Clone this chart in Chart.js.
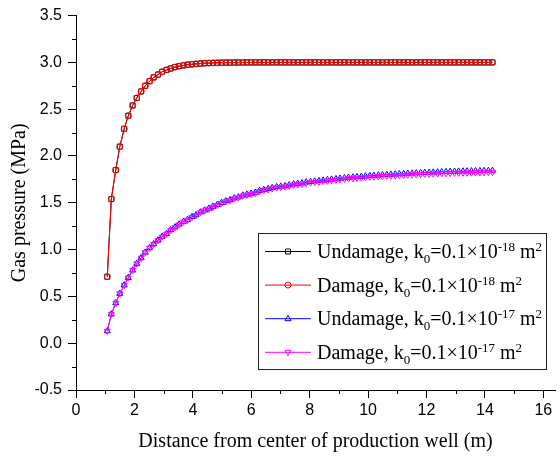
<!DOCTYPE html>
<html>
<head>
<meta charset="utf-8">
<script src="https://cdn.jsdelivr.net/npm/chart.js@4/dist/chart.umd.min.js"></script>
<style>
  html, body { margin: 0; padding: 0; background: #fff; }
</style>
</head>
<body>
<canvas id="pressure-chart" width="560" height="457"></canvas>
<script>
// distance from well centre (m)
var distance = [
  1.07, 1.21, 1.36, 1.50, 1.65, 1.79, 1.94, 2.08, 2.23, 2.37,
  2.52, 2.66, 2.81, 2.95, 3.10, 3.24, 3.39, 3.53, 3.68, 3.82,
  3.97, 4.11, 4.26, 4.40, 4.55, 4.69, 4.84, 4.98, 5.13, 5.27,
  5.42, 5.56, 5.71, 5.85, 6.00, 6.14, 6.29, 6.43, 6.58, 6.72,
  6.87, 7.01, 7.16, 7.30, 7.45, 7.59, 7.74, 7.88, 8.03, 8.17,
  8.32, 8.46, 8.61, 8.75, 8.90, 9.04, 9.19, 9.33, 9.48, 9.62,
  9.77, 9.91, 10.06, 10.20, 10.35, 10.49, 10.64, 10.78, 10.93, 11.07,
  11.22, 11.36, 11.51, 11.65, 11.80, 11.94, 12.09, 12.23, 12.38, 12.52,
  12.67, 12.81, 12.96, 13.10, 13.25, 13.39, 13.54, 13.68, 13.83, 13.97,
  14.12, 14.26
];

// gas pressure (MPa), k0 = 0.1e-18 m2
var undamage18 = [
  0.71, 1.54, 1.85, 2.10, 2.29, 2.43, 2.54, 2.62, 2.69, 2.75,
  2.80, 2.84, 2.87, 2.90, 2.92, 2.935, 2.95, 2.96, 2.968, 2.975,
  2.98, 2.984, 2.988, 2.991, 2.993, 2.995, 2.996, 2.997, 2.998, 2.998,
  2.999, 2.999, 2.999, 3.0, 3.0, 3.0, 3.0, 3.0, 3.0, 3.0,
  3.0, 3.0, 3.0, 3.0, 3.0, 3.0, 3.0, 3.0, 3.0, 3.0,
  3.0, 3.0, 3.0, 3.0, 3.0, 3.0, 3.0, 3.0, 3.0, 3.0,
  3.0, 3.0, 3.0, 3.0, 3.0, 3.0, 3.0, 3.0, 3.0, 3.0,
  3.0, 3.0, 3.0, 3.0, 3.0, 3.0, 3.0, 3.0, 3.0, 3.0,
  3.0, 3.0, 3.0, 3.0, 3.0, 3.0, 3.0, 3.0, 3.0, 3.0,
  3.0, 3.0
];
var damage18 = [
  0.71, 1.54, 1.85, 2.10, 2.29, 2.43, 2.54, 2.62, 2.69, 2.75,
  2.80, 2.84, 2.87, 2.90, 2.92, 2.935, 2.95, 2.96, 2.968, 2.975,
  2.98, 2.984, 2.988, 2.991, 2.993, 2.995, 2.996, 2.997, 2.998, 2.998,
  2.999, 2.999, 2.999, 3.0, 3.0, 3.0, 3.0, 3.0, 3.0, 3.0,
  3.0, 3.0, 3.0, 3.0, 3.0, 3.0, 3.0, 3.0, 3.0, 3.0,
  3.0, 3.0, 3.0, 3.0, 3.0, 3.0, 3.0, 3.0, 3.0, 3.0,
  3.0, 3.0, 3.0, 3.0, 3.0, 3.0, 3.0, 3.0, 3.0, 3.0,
  3.0, 3.0, 3.0, 3.0, 3.0, 3.0, 3.0, 3.0, 3.0, 3.0,
  3.0, 3.0, 3.0, 3.0, 3.0, 3.0, 3.0, 3.0, 3.0, 3.0,
  3.0, 3.0
];

// gas pressure (MPa), k0 = 0.1e-17 m2
var undamage17 = [
  0.13, 0.31, 0.43, 0.53, 0.62, 0.70, 0.78, 0.85, 0.91, 0.97,
  1.02, 1.06, 1.10, 1.14, 1.17, 1.21, 1.24, 1.27, 1.30, 1.32,
  1.35, 1.37, 1.40, 1.42, 1.44, 1.46, 1.48, 1.50, 1.52, 1.53,
  1.55, 1.56, 1.58, 1.59, 1.60, 1.61, 1.63, 1.64, 1.65, 1.66,
  1.67, 1.675, 1.68, 1.69, 1.70, 1.705, 1.71, 1.72, 1.725, 1.73,
  1.735, 1.74, 1.745, 1.75, 1.755, 1.76, 1.765, 1.77, 1.773, 1.777,
  1.78, 1.784, 1.788, 1.791, 1.794, 1.797, 1.80, 1.803, 1.805, 1.808,
  1.81, 1.813, 1.815, 1.818, 1.82, 1.822, 1.824, 1.826, 1.828, 1.83,
  1.831, 1.833, 1.834, 1.836, 1.837, 1.838, 1.839, 1.84, 1.841, 1.842,
  1.843, 1.844
];
var damage17 = [
  0.13, 0.31, 0.43, 0.53, 0.62, 0.70, 0.78, 0.85, 0.91, 0.97,
  1.018, 1.058, 1.098, 1.137, 1.167, 1.207, 1.237, 1.267, 1.296, 1.316,
  1.346, 1.366, 1.396, 1.415, 1.435, 1.455, 1.475, 1.495, 1.514, 1.524,
  1.544, 1.554, 1.574, 1.583, 1.593, 1.603, 1.623, 1.633, 1.642, 1.652,
  1.662, 1.667, 1.672, 1.681, 1.691, 1.696, 1.701, 1.711, 1.715, 1.720,
  1.725, 1.730, 1.735, 1.739, 1.744, 1.749, 1.754, 1.759, 1.761, 1.765,
  1.768, 1.772, 1.776, 1.778, 1.781, 1.784, 1.787, 1.790, 1.791, 1.794,
  1.796, 1.799, 1.801, 1.803, 1.805, 1.807, 1.809, 1.811, 1.812, 1.814,
  1.815, 1.817, 1.818, 1.819, 1.820, 1.821, 1.822, 1.823, 1.823, 1.824,
  1.825, 1.826
];

var seriesNames = ['Undamage', 'Damage', 'Undamage', 'Damage'];
var permExponents = ['-18', '-18', '-17', '-17'];
var seriesColors = ['#000000', '#ff0000', '#0000ff', '#ff00ff'];
var seriesMarkers = ['rect', 'circle', 'triangle', 'triangleDown'];

function toPoints(values) {
  return distance.map(function(d, i) { return { x: d, y: values[i] }; });
}

function makeDataset(values, idx) {
  var marker = seriesMarkers[idx];
  return {
    label: seriesNames[idx],
    data: toPoints(values),
    borderColor: seriesColors[idx],
    borderWidth: 1,
    pointStyle: marker === 'triangleDown' ? 'triangle' : marker,
    rotation: marker === 'triangleDown' ? 180 : 0,
    pointRadius: marker === 'circle' ? 3 : 3.5,
    pointBorderWidth: 1,
    pointBorderColor: seriesColors[idx],
    pointBackgroundColor: 'rgba(0,0,0,0)',
    tension: 0,
    order: 4 - idx
  };
}

// short unlabelled ticks between the major ones
var minorTicks = {
  id: 'minorTicks',
  afterDraw: function(chart) {
    var ctx = chart.ctx;
    var xs = chart.scales.x, ys = chart.scales.y;
    ctx.save();
    ctx.strokeStyle = '#000';
    ctx.lineWidth = 1;
    var i, v, p;
    for (i = 0; i < xs.ticks.length - 1; i++) {
      v = (xs.ticks[i].value + xs.ticks[i + 1].value) / 2;
      p = Math.round(xs.getPixelForValue(v)) + 0.5;
      ctx.beginPath(); ctx.moveTo(p, xs.top); ctx.lineTo(p, xs.top + 4); ctx.stroke();
    }
    for (i = 0; i < ys.ticks.length - 1; i++) {
      v = (ys.ticks[i].value + ys.ticks[i + 1].value) / 2;
      p = Math.round(ys.getPixelForValue(v)) + 0.5;
      ctx.beginPath(); ctx.moveTo(ys.right, p); ctx.lineTo(ys.right - 4, p); ctx.stroke();
    }
    ctx.restore();
  }
};

function drawMarker(ctx, kind, x, y) {
  ctx.beginPath();
  if (kind === 'rect') {
    ctx.rect(x - 2.5, y - 2.5, 5, 5);
  } else if (kind === 'circle') {
    ctx.arc(x, y, 3, 0, Math.PI * 2);
  } else if (kind === 'triangle') {
    ctx.moveTo(x, y - 3.5); ctx.lineTo(x + 3, y + 2); ctx.lineTo(x - 3, y + 2); ctx.closePath();
  } else {
    ctx.moveTo(x, y + 3.5); ctx.lineTo(x + 3, y - 2); ctx.lineTo(x - 3, y - 2); ctx.closePath();
  }
  ctx.stroke();
}

// boxed legend inside the plot, with sub/superscripts
var boxLegend = {
  id: 'boxLegend',
  afterDraw: function(chart) {
    var ctx = chart.ctx;
    var left = 258, top = 233, w = 288, h = 136, rowGap = 33.6;
    ctx.save();
    ctx.fillStyle = '#fff';
    ctx.fillRect(left, top, w, h);
    ctx.strokeStyle = '#222';
    ctx.lineWidth = 1;
    ctx.strokeRect(left + 0.5, top + 0.5, w, h);
    for (var i = 0; i < seriesNames.length; i++) {
      var cy = top + 18 + i * rowGap;
      ctx.strokeStyle = seriesColors[i];
      ctx.beginPath(); ctx.moveTo(265, cy + 0.5); ctx.lineTo(311, cy + 0.5); ctx.stroke();
      drawMarker(ctx, seriesMarkers[i], 288, cy + 0.5);
      var parts = [
        [seriesNames[i] + ', k', 0], ['0', 5], ['=0.1\u00d710', 0],
        [permExponents[i], -7], [' m', 0], ['2', -7]
      ];
      var x = 317, base = cy + 7;
      ctx.fillStyle = '#000';
      ctx.textBaseline = 'alphabetic';
      ctx.textAlign = 'left';
      parts.forEach(function(p) {
        ctx.font = (p[1] === 0 ? 20 : 13) + 'px "Liberation Serif"';
        ctx.fillText(p[0], x, base + p[1]);
        x += ctx.measureText(p[0]).width;
      });
    }
    ctx.restore();
  }
};

var ctx = document.getElementById('pressure-chart').getContext('2d');
var pressureChart = new Chart(ctx, {
  type: 'line',
  data: {
    datasets: [
      makeDataset(undamage18, 0),
      makeDataset(damage18, 1),
      makeDataset(undamage17, 2),
      makeDataset(damage17, 3)
    ]
  },
  options: {
    responsive: false,
    animation: false,
    layout: { padding: { top: 14, right: 5, left: 0, bottom: 0 } },
    plugins: {
      legend: { display: false },
      tooltip: { enabled: false }
    },
    scales: {
      x: {
        type: 'linear',
        min: 0,
        max: 16.4,
        afterFit: function(scale) { scale.height = 67; },
        border: { color: '#000', width: 1 },
        grid: { drawOnChartArea: false, drawTicks: true, tickLength: 8, tickColor: '#000' },
        ticks: {
          stepSize: 2,
          includeBounds: false,
          padding: 3,
          color: '#000',
          font: { family: '"Liberation Sans"', size: 16 }
        },
        title: {
          display: true,
          text: 'Distance from center of production well (m)',
          color: '#000',
          font: { family: '"Liberation Serif"', size: 20 },
          padding: { top: 0, bottom: 3 }
        }
      },
      y: {
        min: -0.5,
        max: 3.5,
        afterFit: function(scale) { scale.width = 76; },
        border: { color: '#000', width: 1 },
        grid: { drawOnChartArea: false, drawTicks: true, tickLength: 8, tickColor: '#000' },
        ticks: {
          stepSize: 0.5,
          padding: 6,
          color: '#000',
          font: { family: '"Liberation Sans"', size: 16 },
          callback: function(v) { return v.toFixed(1); }
        },
        title: {
          display: true,
          text: 'Gas pressure (MPa)',
          color: '#000',
          font: { family: '"Liberation Serif"', size: 20 },
          padding: { top: 8, bottom: 0 }
        }
      }
    }
  },
  plugins: [minorTicks, boxLegend]
});
</script>
</body>
</html>
